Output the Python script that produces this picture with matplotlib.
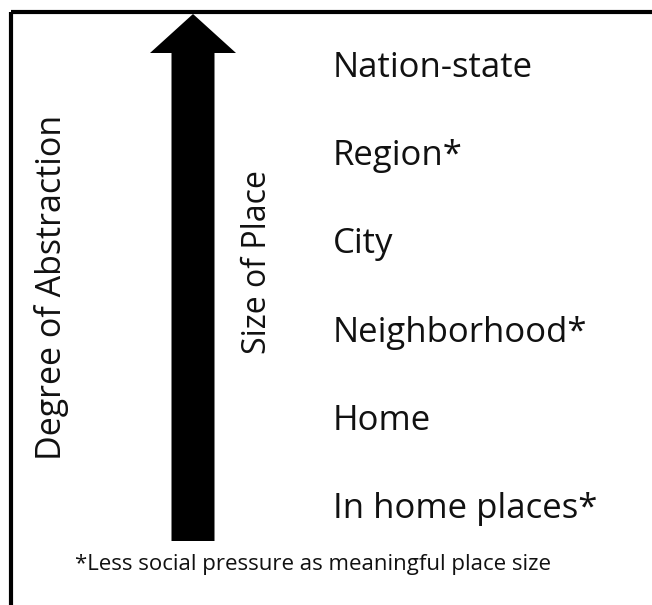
import matplotlib
matplotlib.use("Agg")
import matplotlib.pyplot as plt
from matplotlib.patches import FancyArrow

# Data
levels = ["Nation-state", "Region*", "City", "Neighborhood*", "Home", "In home places*"]
outer_axis_label = "Degree of Abstraction"
inner_axis_label = "Size of Place"
footnote = "*Less social pressure as meaningful place size"

W, H = 652, 605
fig = plt.figure(figsize=(W / 100, H / 100), dpi=100)
ax = fig.add_axes([0, 0, 1, 1])
ax.set_xlim(0, W)
ax.set_ylim(H, 0)
ax.axis("off")

FONT = ["Open Sans", "DejaVu Sans"]
TXT = "#111111"

# frame (top and left lines visible)
ax.plot([10.5, W + 5], [12, 12], color="black", lw=3, solid_capstyle="butt")
ax.plot([10.5, 10.5], [12, H + 5], color="black", lw=3, solid_capstyle="butt")

# arrow
shaft_bottom, head_base, tip = 541, 53, 14
arrow = FancyArrow(193, shaft_bottom, 0, tip - shaft_bottom, width=43,
                   head_width=86, head_length=head_base - tip,
                   length_includes_head=True, color="black", lw=0)
ax.add_patch(arrow)

# level labels (baselines)
y_top, y_step = 77, 88.2
for i, lab in enumerate(levels):
    ax.text(333, y_top + i * y_step, lab, fontsize=25, family=FONT,
            ha="left", va="baseline", color=TXT)

ax.text(52, 287, outer_axis_label, rotation=90, fontsize=24.5, family=FONT,
        ha="center", va="center", color=TXT)
ax.text(258, 262, inner_axis_label, rotation=90, fontsize=23, family=FONT,
        ha="center", va="center", color=TXT)

ax.text(75, 570, footnote, fontsize=16, family=FONT, ha="left",
        va="baseline", color=TXT)

fig.savefig("out.png", dpi=100)
